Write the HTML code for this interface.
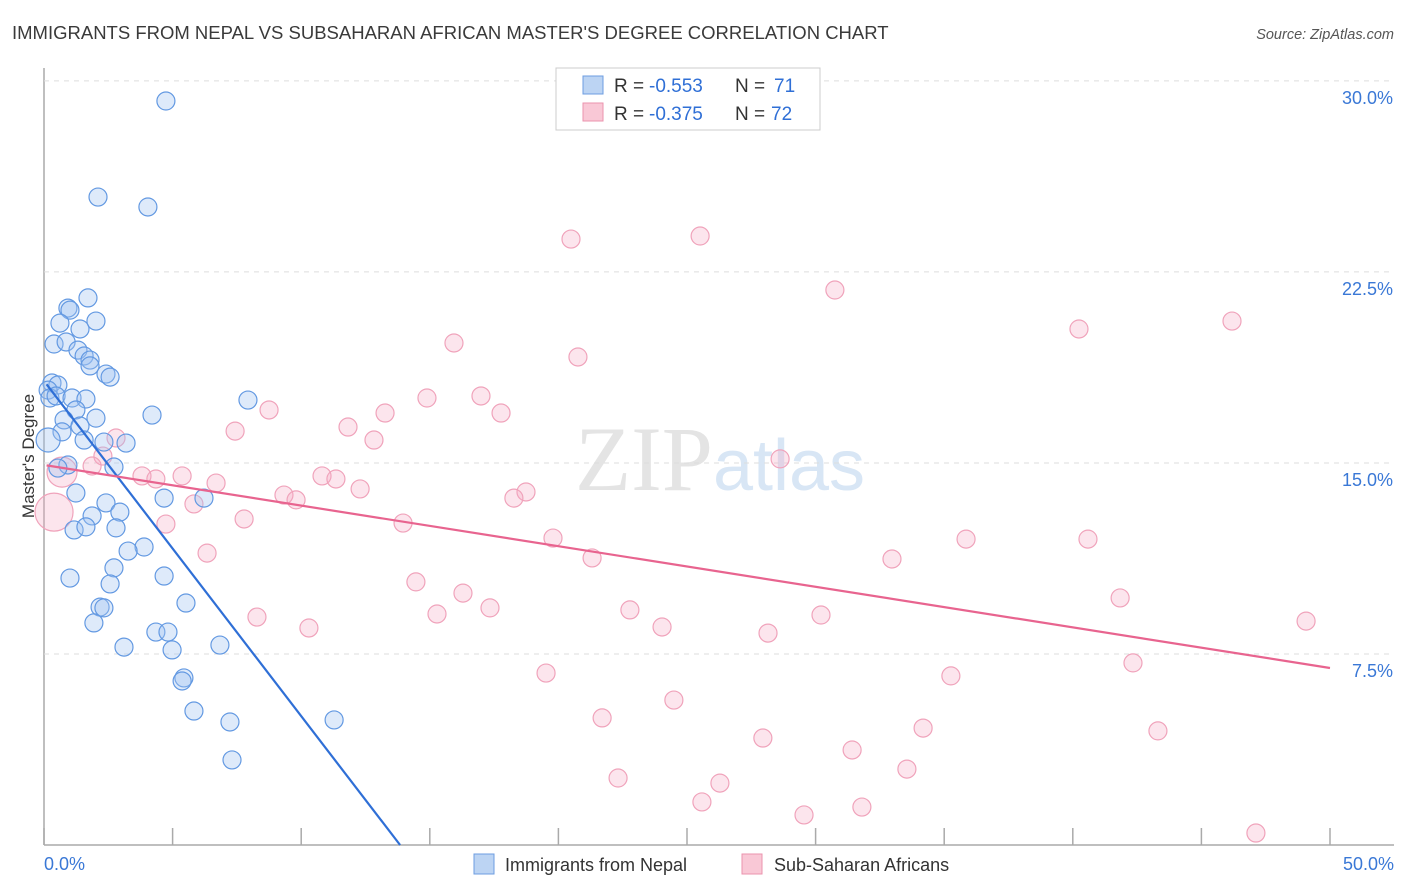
<!DOCTYPE html>
<html><head><meta charset="utf-8"><style>
body{margin:0;background:#fff;font-family:"Liberation Sans",sans-serif;}
svg{display:block}
</style></head><body>
<svg id="chart" width="1406" height="892" xmlns="http://www.w3.org/2000/svg">
<text x="12" y="39" font-size="18.5" fill="#3a3a3a">IMMIGRANTS FROM NEPAL VS SUBSAHARAN AFRICAN MASTER'S DEGREE CORRELATION CHART</text>
<text x="1394" y="39" font-size="14.5" fill="#555" text-anchor="end" font-style="italic">Source: ZipAtlas.com</text>
<text x="720" y="490" font-size="92" text-anchor="middle" fill="#e4e4e4" font-family="Liberation Serif,serif">ZIP<tspan fill="#d8e6f5" font-family="Liberation Sans,sans-serif" font-size="72">atlas</tspan></text>
<text transform="translate(34,456) rotate(-90)" font-size="17" fill="#333" text-anchor="middle">Master's Degree</text>
<g id="grid"></g><g id="pts"></g><g id="lines"></g>
<g>
<rect x="556" y="68" width="264" height="62" fill="#fff" stroke="#ccc"/>
<rect x="583" y="76" width="20" height="18" fill="#bcd4f3" stroke="#6d9de0"/>
<rect x="583" y="103" width="20" height="18" fill="#f9c8d6" stroke="#eb93ae"/>
<text x="614" y="92" font-size="19" fill="#333">R =</text>
<text x="649" y="92" font-size="19" fill="#2f6fd6">-0.553</text>
<text x="735" y="92" font-size="19" fill="#333">N =</text>
<text x="774" y="92" font-size="19" fill="#2f6fd6">71</text>
<text x="614" y="120" font-size="19" fill="#333">R =</text>
<text x="649" y="120" font-size="19" fill="#2f6fd6">-0.375</text>
<text x="735" y="120" font-size="19" fill="#333">N =</text>
<text x="771" y="120" font-size="19" fill="#2f6fd6">72</text>
</g>
<g>
<rect x="474" y="854" width="20" height="20" fill="#bcd4f3" stroke="#6d9de0"/>
<text x="505" y="871" font-size="18" fill="#333">Immigrants from Nepal</text>
<rect x="742" y="854" width="20" height="20" fill="#f9c8d6" stroke="#eb93ae"/>
<text x="774" y="871" font-size="18" fill="#333">Sub-Saharan Africans</text>
</g>
</svg>
<script>
const xTicks=[0,5,10,15,20,25,30,35,40,45,50];
const yTicks=[7.5,15,22.5,30];
const yTickLabels=["7.5%","15.0%","22.5%","30.0%"];
const nepalX=[4.74,2.10,4.04,1.71,0.93,1.01,2.02,0.62,1.40,0.39,0.86,1.32,1.56,1.79,1.79,2.41,2.57,0.31,0.54,0.16,0.23,0.47,1.09,1.63,1.24,2.02,4.20,7.93,0.78,0.70,1.40,1.56,2.33,3.19,0.16,2.72,0.93,0.54,1.24,4.67,6.22,2.41,2.95,1.87,2.80,1.17,1.63,3.89,3.27,2.72,1.01,4.67,2.57,5.52,2.18,2.33,1.94,4.35,4.82,3.11,6.84,4.98,5.44,5.37,5.83,7.23,11.28,7.31];
const nepalY=[29.21,25.44,25.05,21.48,21.08,21.00,20.57,20.49,20.26,19.67,19.75,19.43,19.20,19.04,18.81,18.49,18.37,18.14,18.06,17.86,17.55,17.63,17.55,17.51,17.08,16.76,16.88,17.47,16.69,16.22,16.45,15.90,15.82,15.78,15.90,14.84,14.92,14.80,13.82,13.62,13.62,13.43,13.07,12.92,12.45,12.37,12.49,11.70,11.54,10.88,10.48,10.56,10.25,9.50,9.34,9.31,8.72,8.36,8.36,7.77,7.85,7.66,6.56,6.44,5.26,4.83,4.91,3.34];
const africaX=[25.51,20.49,30.75,40.24,46.19,15.94,20.76,16.99,14.89,8.75,13.26,17.77,11.82,7.43,12.83,2.80,2.29,1.87,0.70,0.39,3.81,4.35,5.37,6.69,10.81,11.35,9.33,9.80,12.29,18.74,18.27,5.83,4.74,7.78,13.96,19.79,35.85,40.59,21.31,32.97,6.34,14.46,16.29,17.34,15.28,22.78,41.84,8.28,10.30,24.03,30.21,28.15,49.07,42.34,19.52,35.26,24.49,21.70,34.18,27.95,43.31,31.42,33.55,26.28,22.32,25.58,31.80,29.55,47.12,28.62];
const africaY=[23.91,23.79,21.79,20.26,20.57,19.71,19.16,17.63,17.55,17.08,16.96,16.96,16.41,16.25,15.90,15.98,15.27,14.88,14.64,13.07,14.49,14.37,14.49,14.21,14.49,14.37,13.74,13.55,13.98,13.86,13.62,13.39,12.60,12.80,12.64,12.05,12.01,12.01,11.27,11.23,11.46,10.33,9.89,9.31,9.07,9.23,9.70,8.95,8.52,8.56,9.03,8.32,8.79,7.15,6.75,6.64,5.69,4.99,4.59,4.20,4.48,3.73,2.98,2.43,2.63,1.69,1.49,1.18,0.47,15.16];
const africaR=[9,9,9,9,9,9,9,9,9,9,9,9,9,9,9,9,9,9,15,19,9,9,9,9,9,9,9,9,9,9,9,9,9,9,9,9,9,9,9,9,9,9,9,9,9,9,9,9,9,9,9,9,9,9,9,9,9,9,9,9,9,9,9,9,9,9,9,9,9,9];
const trendNepal=[18.22,-1.316];
const trendAfrica=[14.92,-0.1594];
const NS="http://www.w3.org/2000/svg";
const X0=44,X1=1330,Y0=845,pxPerY=25.47;
const sx=v=>X0+v/50*(X1-X0);
const sy=v=>Y0-v*pxPerY;
function mk(tag,attrs,parent){const e=document.createElementNS(NS,tag);for(const k in attrs)e.setAttribute(k,attrs[k]);parent.appendChild(e);return e;}
const grid=document.getElementById('grid');
let ax=mk('line',{x1:X0,y1:68,x2:X0,y2:Y0,stroke:'#aaa','stroke-width':1.5},grid);


let bx=mk('line',{x1:X0,y1:Y0,x2:1394,y2:Y0,stroke:'#aaa','stroke-width':1.5},grid);


yTicks.forEach((t,i)=>{
 const g=mk('line',{x1:X0,y1:sy(t),x2:1394,y2:sy(t),stroke:'#ddd','stroke-dasharray':'5,5'},grid);
 
 
 const l=mk('text',{x:1393,y:sy(t)+23,'font-size':18,fill:'#3a78d6','text-anchor':'end'},grid);
 l.textContent=yTickLabels[i];
 
 
});
xTicks.forEach(t=>{
 const k=mk('line',{x1:sx(t),y1:Y0,x2:sx(t),y2:Y0-17,stroke:'#aaa','stroke-width':1.5},grid);
 
 
});
[[0,'0.0%','start',44],[50,'50.0%','end',1394]].forEach(a=>{
 const l=mk('text',{x:a[3],y:870,'font-size':18,fill:'#3a78d6','text-anchor':a[2]},grid);
 l.textContent=a[1];
 
 
});
const pts=document.getElementById('pts');
africaX.forEach((x,i)=>{
 const c=mk('circle',{cx:sx(x),cy:sy(africaY[i]),r:africaR[i],fill:'rgba(246,170,194,0.3)',stroke:'#f0a3bb','stroke-width':1.2},pts);
 
 
});
nepalX.forEach((x,i)=>{
 const r=(x<0.2&&nepalY[i]>15&&nepalY[i]<16)?12:9;
 const c=mk('circle',{cx:sx(x),cy:sy(nepalY[i]),r:r,fill:'rgba(160,196,240,0.35)',stroke:'#6399e2','stroke-width':1.2},pts);
 
 
});
const lines=document.getElementById('lines');
const xEndN=-trendNepal[0]/trendNepal[1];
let ln=mk('line',{x1:sx(0.1),y1:sy(trendNepal[0]+trendNepal[1]*0.1),x2:sx(xEndN),y2:sy(0),stroke:'#2f6fd6','stroke-width':2.2},lines);


let la=mk('line',{x1:sx(0.1),y1:sy(trendAfrica[0]+trendAfrica[1]*0.1),x2:sx(50),y2:sy(trendAfrica[0]+trendAfrica[1]*50),stroke:'#e8648f','stroke-width':2.2},lines);


</script>
</body></html>
